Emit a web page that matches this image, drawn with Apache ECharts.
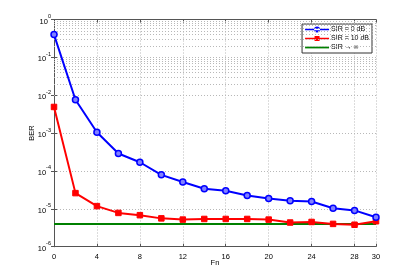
<!DOCTYPE html>
<html><head><meta charset="utf-8">
<script src="https://cdn.jsdelivr.net/npm/echarts@6/dist/echarts.min.js"></script>
<style>html,body{margin:0;padding:0;background:#fff}#c{width:415px;height:278px}</style>
</head><body><div id="c"></div>
<script>
const fn = [0,2,4,6,8,10,12,14,16,18,20,22,24,26,28,30];
const berSir0 = [0.4,7.6e-3,1.05e-3,2.9e-4,1.7e-4,7.9e-5,5.1e-5,3.4e-5,3.0e-5,2.25e-5,1.87e-5,1.63e-5,1.56e-5,1.04e-5,9.1e-6,6.0e-6];
const berSir10 = [4.9e-3,2.6e-5,1.18e-5,7.8e-6,6.8e-6,5.6e-6,5.2e-6,5.4e-6,5.4e-6,5.4e-6,5.2e-6,4.35e-6,4.5e-6,4.0e-6,3.8e-6,4.7e-6];
const berSirInf = [4.0e-6,4.0e-6,4.0e-6,4.0e-6,4.0e-6,4.0e-6,4.0e-6,4.0e-6,4.0e-6,4.0e-6,4.0e-6,4.0e-6,4.0e-6,4.0e-6,4.0e-6,4.0e-6];
const seriesNames = ['SIR = 0 dB','SIR = 10 dB','SIR \u2192 \u221e'];
const xTicks = {min:0, max:30, interval:4};
const yRange = {min:1e-6, max:1};

const font = 'Liberation Sans, Arial, Helvetica, sans-serif';
const gridCol = '#b8b8b8';
const axCol = '#555';
const colors = ['#0000ff','#ff0000','#008000'];
const pairs = ys => fn.map((x,i)=>[x, ys[i]]);

const minor = [];
for (let k=-6;k<0;k++) for (let m=2;m<=9;m++) minor.push({yAxis: m*Math.pow(10,k)});

// legend icons: line with marker, in a 24x8 box
const iconCircle = 'path://M0,3.2H24V4.8H0Z M9,4a3,3 0 1,0 6,0a3,3 0 1,0 -6,0Z';
const iconSquare = 'path://M0,3.2H24V4.8H0Z M9.5,1.5H14.5V6.5H9.5Z';
const iconLine = 'path://M0,3.1H24V4.9H0Z';

const chart = echarts.init(document.getElementById('c'), null, {renderer:'canvas'});
chart.setOption({
  animation:false,
  backgroundColor:'#fff',
  textStyle:{fontFamily:font},
  grid:{left:54, right:39, top:19.5, bottom:31.3, show:false},
  legend:{
    right:43, top:24, orient:'vertical', backgroundColor:'#fff',
    borderColor:'#333', borderWidth:1, padding:[2,3,2,3], itemGap:2,
    itemWidth:24, itemHeight:8,
    textStyle:{fontSize:7, fontFamily:font, color:'#000', padding:[0,0,0,-3]},
    data:[
      {name:seriesNames[0], icon:iconCircle, itemStyle:{color:colors[0], borderWidth:0}},
      {name:seriesNames[1], icon:iconSquare, itemStyle:{color:colors[1], borderWidth:0}},
      {name:seriesNames[2], icon:iconLine, itemStyle:{color:colors[2], borderWidth:0}}
    ]
  },
  xAxis:[{
    type:'value', min:xTicks.min, max:xTicks.max, interval:xTicks.interval,
    name:'Fn', nameLocation:'middle', nameGap:12, nameMoveOverlap:false,
    nameTextStyle:{fontSize:7.5, color:'#000'},
    axisLine:{show:true, lineStyle:{color:axCol, width:1}},
    axisTick:{show:true, inside:true, length:3, lineStyle:{color:axCol}},
    axisLabel:{fontSize:7.5, color:'#000', margin:6},
    splitLine:{show:true, lineStyle:{color:gridCol, type:[1,2], width:1}}
  },{
    type:'value', position:'top', min:xTicks.min, max:xTicks.max, interval:xTicks.interval,
    axisLine:{show:true, onZero:false, lineStyle:{color:axCol, width:1}},
    axisTick:{show:true, inside:true, length:3, lineStyle:{color:axCol}},
    axisLabel:{show:false}, splitLine:{show:false}
  }],
  yAxis:[{
    type:'log', logBase:10, min:yRange.min, max:yRange.max,
    name:'BER', nameLocation:'middle', nameGap:18, nameRotate:90, nameMoveOverlap:false,
    nameTextStyle:{fontSize:7.5, color:'#000'},
    axisLine:{show:true, lineStyle:{color:axCol, width:1}},
    axisTick:{show:true, inside:true, length:3, lineStyle:{color:axCol}},
    axisLabel:{
      margin:3, color:'#000',
      formatter: v => '{b|10}{s|' + Math.round(Math.log10(v)) + '}',
      rich:{ b:{fontSize:7.5, fontFamily:font, color:'#000', padding:[4,0,0,0]},
             s:{fontSize:5.5, fontFamily:font, color:'#000', padding:[0,0,6,0]} }
    },
    splitLine:{show:true, lineStyle:{color:gridCol, type:[1,2], width:1}}
  },{
    type:'log', logBase:10, min:yRange.min, max:yRange.max, position:'right',
    axisLine:{show:true, lineStyle:{color:axCol, width:1}},
    axisTick:{show:true, inside:true, length:3, lineStyle:{color:axCol}},
    axisLabel:{show:false}, splitLine:{show:false}
  }],
  series:[
    {name:'minor', type:'line', data:[], silent:true, z:1,
     markLine:{silent:true, symbol:'none', label:{show:false},
       lineStyle:{color:gridCol, type:[1,2], width:1}, data:minor}},
    {name:seriesNames[2], type:'line', data:pairs(berSirInf), symbol:'none',
     lineStyle:{color:colors[2], width:2, type:'solid'}, itemStyle:{color:colors[2]}, z:3},
    {name:seriesNames[1], type:'line', data:pairs(berSir10), symbol:'rect', symbolSize:5.5,
     lineStyle:{color:colors[1], width:2, type:'solid'}, itemStyle:{color:colors[1], borderColor:colors[1]}, z:4},
    {name:seriesNames[0], type:'line', data:pairs(berSir0), symbol:'circle', symbolSize:6,
     lineStyle:{color:colors[0], width:2, type:'solid'},
     itemStyle:{color:'#8080ff', borderColor:colors[0], borderWidth:1.5}, z:5}
  ]
});
</script></body></html>
